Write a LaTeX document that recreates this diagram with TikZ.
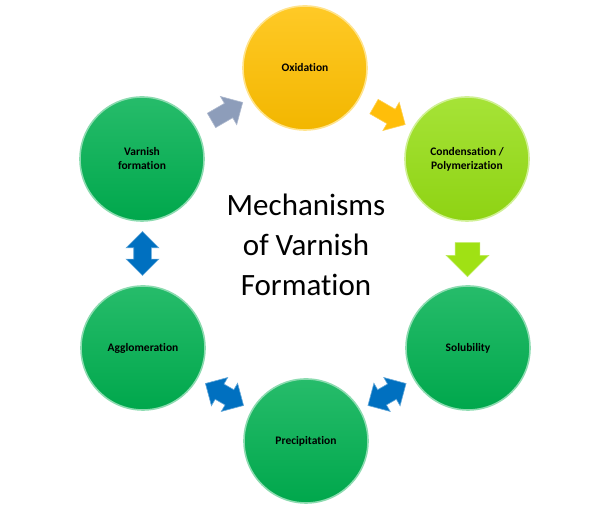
\documentclass[tikz,border=0pt]{standalone}
\usepackage{fontspec}
\setmainfont{Carlito}[Ligatures=NoCommon]
\usetikzlibrary{calc,shapes.arrows}

\definecolor{stagegreen}{RGB}{0,176,80}
\definecolor{stagegold}{RGB}{255,192,0}
\definecolor{stagelime}{RGB}{150,222,20}
\definecolor{arrowgray}{RGB}{141,157,186}
\definecolor{arrowgold}{RGB}{255,190,10}
\definecolor{arrowlime}{RGB}{160,225,20}
\definecolor{arrowblue}{RGB}{0,112,192}

\tikzset{
  stage/.style={circle,minimum size=124pt,inner sep=0pt,align=center,
    font=\fontsize{11.5}{14}\selectfont\bfseries,
    draw=#1!45!white,line width=1.6pt,
    top color=#1!85!white,bottom color=#1!95!black},
  oneway/.style={single arrow,fill=#1,draw=#1!70!white,line width=0.6pt,
    minimum height=36pt,inner xsep=0pt,inner ysep=8pt,single arrow head extend=8pt},
  twoway/.style={double arrow,fill=arrowblue,draw=arrowblue!60!white,line width=0.6pt,
    minimum height=44pt,inner xsep=0pt,inner ysep=8.5pt,double arrow head extend=7.5pt}
}

\begin{document}
\begin{tikzpicture}[x=1pt,y=1pt]
  \useasboundingbox (0,0) rectangle (590,518);

  %% The six stages round the cycle
  \node[stage=stagegold]  (oxid)  at (305,450) {Oxidation};
  \node[stage=stagelime]  (cond)  at (467,359) {Condensation /\\Polymerization};
  \node[stage=stagegreen] (solub) at (468,170) {Solubility};
  \node[stage=stagegreen] (precip) at (306,77) {Precipitation};
  \node[stage=stagegreen] (agglo) at (143,170) {Agglomeration};
  \node[stage=stagegreen] (varn)  at (142,359) {Varnish\\formation};

  %% Title in the middle
  \node[align=center,font=\fontsize{31}{40}\selectfont] (title) at (306,273)
    {Mechanisms\\of Varnish\\Formation};

  %% One-way arrows between stages
  \foreach \a/\b/\ang/\col in {varn/oxid/30/arrowgray,oxid/cond/-30/arrowgold}
  {
    \node[oneway=\col,rotate=\ang] (arr-\a) at ($(\a)!0.5!(\b)$) {};
  }
  \node[oneway=arrowlime,rotate=-90,minimum height=34pt,inner ysep=12pt,
    single arrow head extend=9pt] (arr-cond) at ($(cond)!0.5!(solub)$) {};

  %% Two-way arrows between stages
  \foreach \a/\b/\ang in {solub/precip/30,precip/agglo/-30,agglo/varn/90}
  {
    \node[twoway,rotate=\ang] (arr-\a) at ($(\a)!0.5!(\b)$) {};
  }
\end{tikzpicture}
\end{document}
